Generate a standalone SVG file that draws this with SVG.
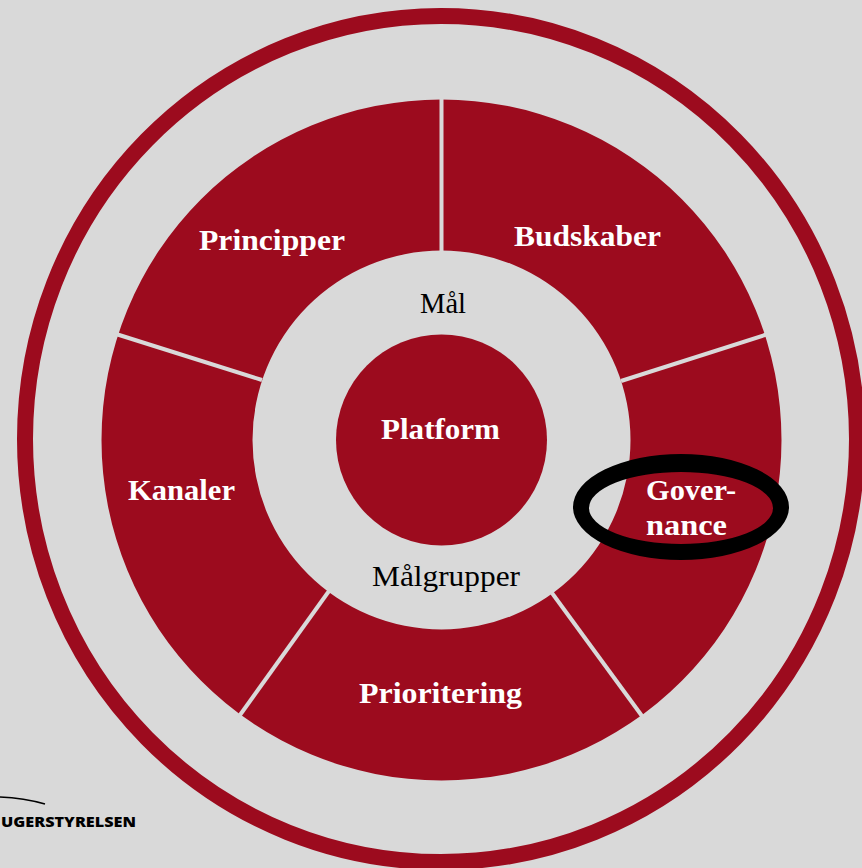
<svg xmlns="http://www.w3.org/2000/svg" width="862" height="868" viewBox="0 0 862 868">
<style>
.sector{fill:#9c0b1e}
.sep{stroke:#d9d9d9;stroke-width:4;fill:none}
.w{font-family:"Liberation Serif",serif;font-weight:700;font-size:30px;fill:#fff}
.b{font-family:"Liberation Serif",serif;font-size:30px;fill:#000}
.logo{font-family:"Open Sans",sans-serif;font-weight:800;font-size:14px;fill:#000}
</style>
<rect width="862" height="868" fill="#d9d9d9"/>
<g id="outer-ring"><ellipse cx="441" cy="439" rx="416" ry="423" fill="none" stroke="#9c0b1e" stroke-width="16"/></g>
<g id="wheel"><path class="sector" fill-rule="evenodd" d="M441.500 99.500A340 340.500 0 1 1 441.500 780.500A340 340.500 0 1 1 441.500 99.500ZM441.500 250.500A189 189.500 0 1 0 441.500 629.500A189 189.500 0 1 0 441.500 250.500Z"/></g>
<g id="connectors">
<line class="sep" x1="441.500" y1="97" x2="441.500" y2="252"/>
<line class="sep" x1="621" y1="381" x2="768" y2="334"/>
<line class="sep" x1="552" y1="593" x2="642" y2="716"/>
<line class="sep" x1="329" y1="591" x2="240" y2="715"/>
<line class="sep" x1="262" y1="380" x2="116" y2="334"/>
</g>
<g id="platform"><circle class="sector" cx="441.500" cy="440" r="105.500"/><text class="w" x="381" y="439" textLength="119" lengthAdjust="spacingAndGlyphs">Platform</text></g>
<g id="principper"><text class="w" x="199" y="250" textLength="146" lengthAdjust="spacingAndGlyphs">Principper</text></g>
<g id="budskaber"><text class="w" x="514" y="246" textLength="147" lengthAdjust="spacingAndGlyphs">Budskaber</text></g>
<g id="kanaler"><text class="w" x="128" y="500" textLength="107" lengthAdjust="spacingAndGlyphs">Kanaler</text></g>
<g id="prioritering"><text class="w" x="359" y="703" textLength="163" lengthAdjust="spacingAndGlyphs">Prioritering</text></g>
<g id="governance"><text class="w" x="646" y="500" textLength="90" lengthAdjust="spacingAndGlyphs">Gover-</text><text class="w" x="646" y="535" textLength="81" lengthAdjust="spacingAndGlyphs">nance</text></g>
<g id="maal"><text class="b" x="420" y="313" textLength="46" lengthAdjust="spacingAndGlyphs">Mål</text></g>
<g id="maalgrupper"><text class="b" x="372" y="586" textLength="148" lengthAdjust="spacingAndGlyphs">Målgrupper</text></g>
<g id="highlight"><path fill="#000" fill-rule="evenodd" d="M573 507A108 53 0 1 1 789 507A108 53 0 1 1 573 507ZM589 508A92 36 0 1 0 773 508A92 36 0 1 0 589 508Z"/></g>
<g id="logo"><path d="M0 797Q24 798 45 804" fill="none" stroke="#000" stroke-width="1.500"/><text class="logo" x="1" y="827" textLength="135" lengthAdjust="spacingAndGlyphs">UGERSTYRELSEN</text></g>
</svg>
